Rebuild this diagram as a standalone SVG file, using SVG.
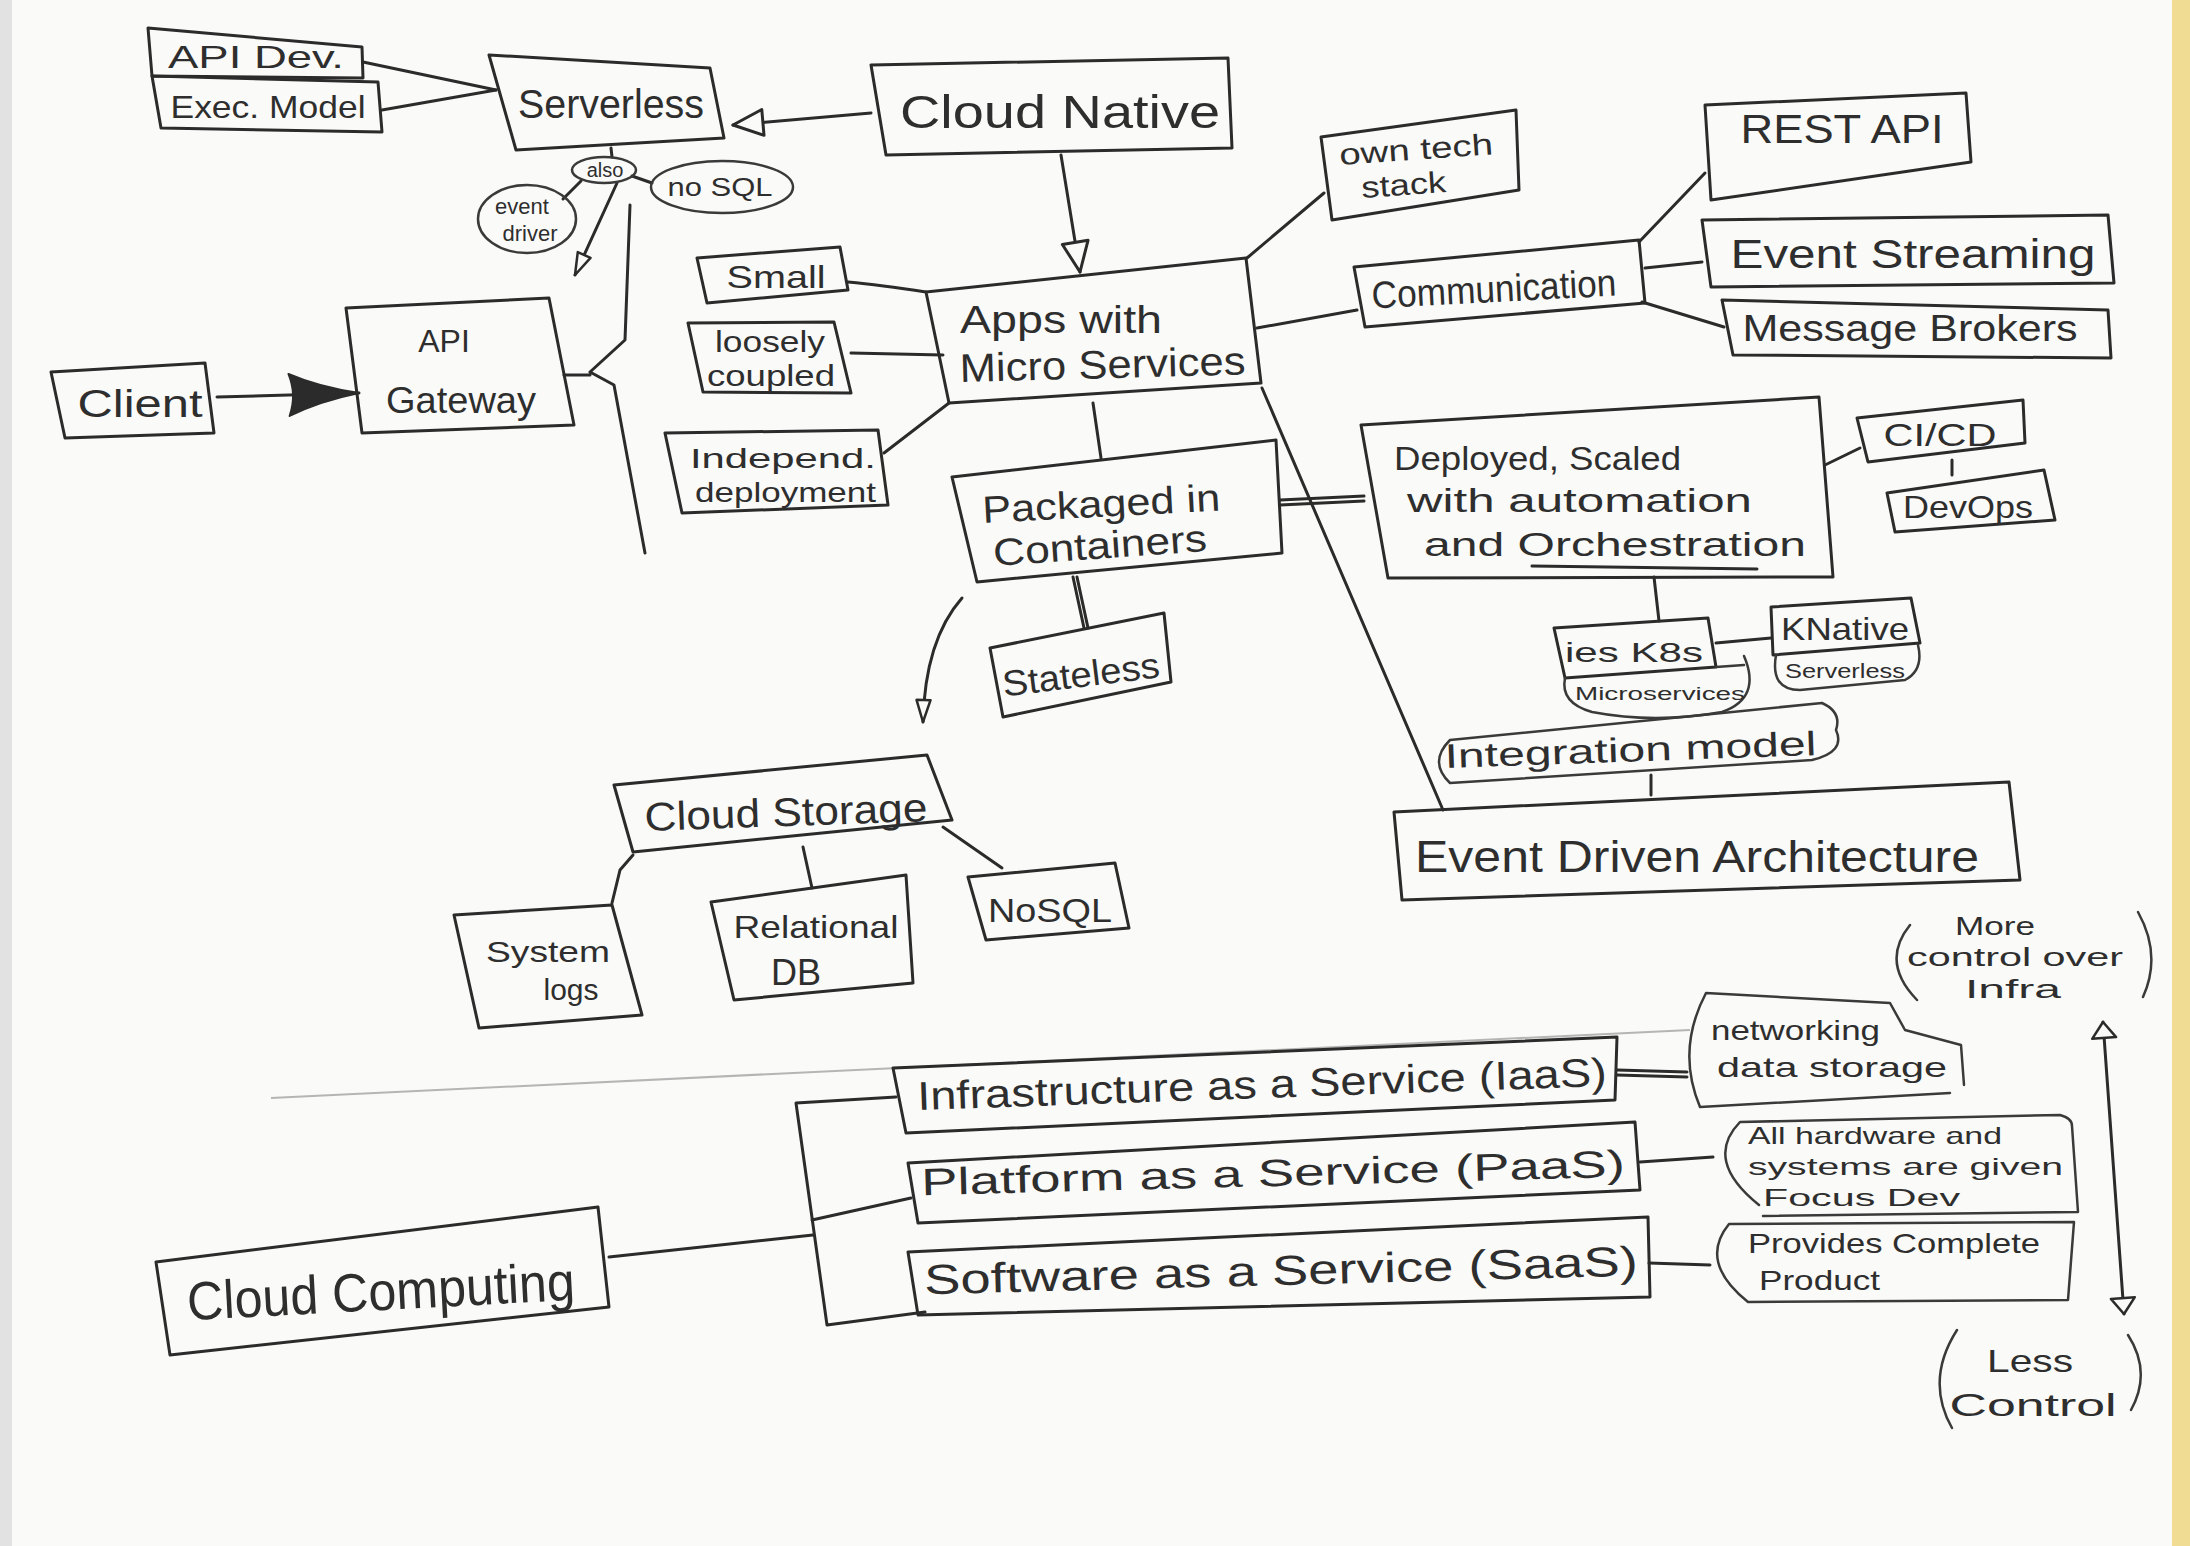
<svg xmlns="http://www.w3.org/2000/svg" width="2190" height="1546" viewBox="0 0 2190 1546">
<style>
  .bx{fill:none;stroke:#2b2b2b;stroke-width:3;stroke-linejoin:round}
  .bub{fill:none;stroke:#3a3a3a;stroke-width:2.5;stroke-linejoin:round;stroke-linecap:round}
  .cn{fill:none;stroke:#2b2b2b;stroke-width:3;stroke-linecap:round;stroke-linejoin:round}
  .sep{fill:none;stroke:#b5b5b5;stroke-width:2}
  text{font-family:"Liberation Sans",Arial,sans-serif;fill:#2e2e2e}
  .m{text-anchor:middle}
  .f18{font-size:18px}.f20{font-size:20px}.f22{font-size:22px}.f26{font-size:26px}.f28{font-size:28px}
  .f30{font-size:30px}.f32{font-size:32px}.f34{font-size:34px}.f36{font-size:36px}.f38{font-size:38px}
  .f40{font-size:40px}.f42{font-size:42px}.f44{font-size:44px}.f46{font-size:46px}.f54{font-size:54px}
</style>
<defs>
  <marker id="tri" viewBox="-2 -2 34 30" refX="30" refY="13" markerWidth="34" markerHeight="30" markerUnits="userSpaceOnUse" orient="auto">
    <path d="M0,0 L30,13 L0,26 Z" fill="#fafaf8" stroke="#2b2b2b" stroke-width="3" stroke-linejoin="round"/>
  </marker>
  <marker id="triS" viewBox="-2 -2 26 18" refX="22" refY="7" markerWidth="26" markerHeight="18" markerUnits="userSpaceOnUse" orient="auto">
    <path d="M0,0 L22,7 L0,14 Z" fill="#fafaf8" stroke="#2b2b2b" stroke-width="2.5" stroke-linejoin="round"/>
  </marker>
  <marker id="triV" viewBox="-2 -2 20 28" refX="16" refY="12" markerWidth="20" markerHeight="28" markerUnits="userSpaceOnUse" orient="auto-start-reverse">
    <path d="M0,0 L16,12 L0,24 Z" fill="#fafaf8" stroke="#2b2b2b" stroke-width="2.5" stroke-linejoin="round"/>
  </marker>
  <marker id="triF" viewBox="-2 -2 74 46" refX="70" refY="21" markerWidth="74" markerHeight="46" markerUnits="userSpaceOnUse" orient="auto">
    <path d="M0,0 Q30,14 70,21 Q30,28 0,42 Q8,21 0,0 Z" fill="#2b2b2b" stroke="#2b2b2b" stroke-width="2" stroke-linejoin="round"/>
  </marker>
</defs>

<rect x="0" y="0" width="2190" height="1546" fill="#fafaf8"/>
<rect x="0" y="0" width="12" height="1546" fill="#e2e2e2"/>
<rect x="2172" y="0" width="18" height="1546" fill="#f1dc93"/>

<g id="connectors">
  <path class="sep" d="M271,1098 L1690,1030"/>
  <path class="cn" d="M363,62 L496,90"/>
  <path class="cn" d="M382,110 L496,90"/>
  <path class="cn" d="M871,113 L733,125" marker-end="url(#tri)"/>
  <path class="cn" d="M1061,155 L1080,272" marker-end="url(#tri)"/>
  <path class="cn" d="M611,148 L612,157"/>
  <path class="cn" d="M581,181 L563,199"/>
  <path class="cn" d="M632,176 L652,183"/>
  <path class="cn" d="M617,183 L575,275" marker-end="url(#triS)"/>
  <path class="cn" d="M630,205 L625,340 L590,372 M564,375 L590,375 M590,372 L614,385 L645,553"/>
  <path class="cn" d="M217,397 L359,393" marker-end="url(#triF)"/>
  <path class="cn" d="M848,282 Q880,285 926,292"/>
  <path class="cn" d="M851,353 L943,355"/>
  <path class="cn" d="M884,453 L949,403"/>
  <path class="cn" d="M1093,403 L1101,458"/>
  <path class="cn" d="M1247,258 L1324,193"/>
  <path class="cn" d="M1257,328 L1357,310"/>
  <path class="cn" d="M1639,242 L1705,173"/>
  <path class="cn" d="M1645,268 L1702,262"/>
  <path class="cn" d="M1642,302 L1724,327"/>
  <path class="cn" d="M1262,388 L1443,810"/>
  <path class="cn" d="M1280,500 L1364,496 M1280,505 L1364,501"/>
  <path class="cn" d="M1825,465 L1860,448"/>
  <path class="cn" d="M1952,460 L1952,475"/>
  <path class="cn" d="M1654,577 L1659,621"/>
  <path class="cn" d="M1716,643 L1771,638"/>
  <path class="cn" d="M1651,775 L1651,795"/>
  <path class="cn" d="M1073,577 L1084,628 M1077,577 L1088,628"/>
  <path class="cn" d="M962,598 Q925,640 923,722" marker-end="url(#triS)"/>
  <path class="cn" d="M633,855 L620,870 L612,903"/>
  <path class="cn" d="M803,847 L812,888"/>
  <path class="cn" d="M943,827 L1002,868"/>
  <path class="cn" d="M609,1257 L813,1235"/>
  <path class="cn" d="M896,1097 L796,1103 L827,1325 L925,1312 M812,1220 L911,1198"/>
  <path class="cn" d="M1617,1070 L1687,1072 M1617,1075 L1687,1077"/>
  <path class="cn" d="M1640,1162 L1713,1157"/>
  <path class="cn" d="M1649,1263 L1710,1265"/>
  <path class="cn" d="M2103,1022 L2124,1314" marker-start="url(#triV)" marker-end="url(#triV)"/>
</g>

<g id="node-api-dev">
  <polygon class="bx" points="148,28 362,47 363,78 152,76"/>
  <text class="f32 m" x="256" y="68" textLength="176" lengthAdjust="spacingAndGlyphs">API Dev.</text>
</g>
<g id="node-exec-model">
  <polygon class="bx" points="152,76 378,82 382,132 161,128"/>
  <text class="f32 m" x="268" y="118" textLength="195" lengthAdjust="spacingAndGlyphs">Exec. Model</text>
</g>
<g id="node-serverless">
  <polygon class="bx" points="489,55 710,68 724,138 516,150"/>
  <text class="f40 m" x="611" y="118" textLength="186" lengthAdjust="spacingAndGlyphs">Serverless</text>
</g>
<g id="node-also">
  <ellipse class="bub" cx="604" cy="170" rx="32" ry="13"/>
  <text class="f20 m" x="605" y="177">also</text>
</g>
<g id="node-nosql-oval">
  <ellipse class="bub" cx="722" cy="187" rx="71" ry="26"/>
  <text class="f26 m" x="720" y="196" textLength="105" lengthAdjust="spacingAndGlyphs">no SQL</text>
</g>
<g id="node-event-driver">
  <ellipse class="bub" cx="527" cy="219" rx="49" ry="34"/>
  <text class="f22 m" x="522" y="214">event</text>
  <text class="f22 m" x="530" y="241">driver</text>
</g>
<g id="node-cloud-native">
  <polygon class="bx" points="871,65 1228,58 1232,148 886,155"/>
  <text class="f46 m" x="1060" y="128" textLength="320" lengthAdjust="spacingAndGlyphs">Cloud Native</text>
</g>
<g id="node-client">
  <polygon class="bx" points="51,372 205,363 214,433 65,438"/>
  <text class="f38 m" x="140" y="417" textLength="125" lengthAdjust="spacingAndGlyphs">Client</text>
</g>
<g id="node-api-gateway">
  <polygon class="bx" points="346,308 549,298 574,425 362,433"/>
  <text class="f32 m" x="444" y="352">API</text>
  <text class="f36 m" x="461" y="413" textLength="150" lengthAdjust="spacingAndGlyphs">Gateway</text>
</g>
<g id="node-small">
  <polygon class="bx" points="697,258 840,247 848,290 707,303"/>
  <text class="f32 m" x="776" y="288" textLength="99" lengthAdjust="spacingAndGlyphs">Small</text>
</g>
<g id="node-loosely-coupled">
  <polygon class="bx" points="688,323 834,322 851,393 703,392"/>
  <text class="f30 m" x="770" y="352" textLength="110" lengthAdjust="spacingAndGlyphs">loosely</text>
  <text class="f30 m" x="771" y="386" textLength="128" lengthAdjust="spacingAndGlyphs">coupled</text>
</g>
<g id="node-independ-deployment">
  <polygon class="bx" points="665,433 878,430 888,505 682,513"/>
  <text class="f28" x="690" y="468" textLength="186" lengthAdjust="spacingAndGlyphs">Independ.</text>
  <text class="f28" x="695" y="502" textLength="181" lengthAdjust="spacingAndGlyphs">deployment</text>
</g>
<g id="node-apps-micro">
  <polygon class="bx" points="926,292 1246,258 1261,383 949,403"/>
  <text class="f38" x="960" y="333" textLength="202" lengthAdjust="spacingAndGlyphs">Apps with</text>
  <text class="f40" x="960" y="382" textLength="286" lengthAdjust="spacingAndGlyphs" transform="rotate(-1.5 960 382)">Micro Services</text>
</g>
<g id="node-packaged">
  <polygon class="bx" points="952,477 1276,440 1282,553 977,582"/>
  <text class="f38" x="983" y="523" textLength="238" lengthAdjust="spacingAndGlyphs" transform="rotate(-3 983 523)">Packaged in</text>
  <text class="f38" x="994" y="566" textLength="214" lengthAdjust="spacingAndGlyphs" transform="rotate(-4 994 566)">Containers</text>
</g>
<g id="node-stateless">
  <polygon class="bx" points="990,648 1164,613 1171,682 1003,717"/>
  <text class="f36 m" x="1081" y="687" textLength="158" lengthAdjust="spacingAndGlyphs" transform="rotate(-7 1081 675)">Stateless</text>
</g>
<g id="node-own-tech">
  <polygon class="bx" points="1321,137 1516,110 1519,190 1332,220"/>
  <text class="f30" x="1340" y="165" textLength="154" lengthAdjust="spacingAndGlyphs" transform="rotate(-4 1340 165)">own tech</text>
  <text class="f30" x="1362" y="198" textLength="85" lengthAdjust="spacingAndGlyphs" transform="rotate(-4 1362 198)">stack</text>
</g>
<g id="node-communication">
  <polygon class="bx" points="1354,267 1639,240 1645,303 1365,327"/>
  <text class="f38 m" x="1494" y="302" textLength="245" lengthAdjust="spacingAndGlyphs" transform="rotate(-3 1494 290)">Communication</text>
</g>
<g id="node-rest-api">
  <polygon class="bx" points="1705,105 1966,93 1971,162 1711,200"/>
  <text class="f40 m" x="1842" y="143" textLength="203" lengthAdjust="spacingAndGlyphs">REST API</text>
</g>
<g id="node-event-streaming">
  <polygon class="bx" points="1702,220 2108,215 2114,283 1711,287"/>
  <text class="f40 m" x="1913" y="268" textLength="365" lengthAdjust="spacingAndGlyphs">Event Streaming</text>
</g>
<g id="node-message-brokers">
  <polygon class="bx" points="1722,300 2108,310 2111,358 1733,355"/>
  <text class="f36 m" x="1910" y="341" textLength="335" lengthAdjust="spacingAndGlyphs">Message Brokers</text>
</g>
<g id="node-deployed">
  <polygon class="bx" points="1361,425 1819,397 1833,577 1388,578"/>
  <text class="f34" x="1394" y="470" textLength="287" lengthAdjust="spacingAndGlyphs">Deployed, Scaled</text>
  <text class="f34" x="1407" y="512" textLength="345" lengthAdjust="spacingAndGlyphs">with automation</text>
  <text class="f34" x="1424" y="556" textLength="382" lengthAdjust="spacingAndGlyphs">and Orchestration</text>
  <path class="cn" d="M1532,566 L1757,569"/>
</g>
<g id="node-cicd">
  <polygon class="bx" points="1857,418 2023,400 2025,443 1868,462"/>
  <text class="f32 m" x="1940" y="446" textLength="113" lengthAdjust="spacingAndGlyphs">CI/CD</text>
</g>
<g id="node-devops">
  <polygon class="bx" points="1887,493 2044,470 2055,520 1895,532"/>
  <text class="f32 m" x="1968" y="518" textLength="130" lengthAdjust="spacingAndGlyphs">DevOps</text>
</g>
<g id="node-k8s">
  <polygon class="bx" points="1554,628 1708,618 1716,667 1565,678"/>
  <text class="f28 m" x="1634" y="662" textLength="138" lengthAdjust="spacingAndGlyphs">ies K8s</text>
  <path class="bub" d="M1565,678 Q1560,703 1592,712 Q1655,724 1722,712 Q1762,698 1744,656 M1716,667 L1744,665"/>
  <text class="f18 m" x="1660" y="700" textLength="170" lengthAdjust="spacingAndGlyphs">Microservices</text>
</g>
<g id="node-knative">
  <polygon class="bx" points="1771,607 1911,598 1920,643 1773,655"/>
  <text class="f32 m" x="1845" y="640" textLength="128" lengthAdjust="spacingAndGlyphs">KNative</text>
  <path class="bub" d="M1776,655 Q1770,690 1800,690 L1905,680 Q1924,670 1918,645"/>
  <text class="f20 m" x="1845" y="678" textLength="120" lengthAdjust="spacingAndGlyphs">Serverless</text>
</g>
<g id="node-integration-model">
  <path class="bub" d="M1450,740 L1822,703 Q1842,712 1836,730 Q1846,752 1812,760 L1450,783 Q1428,762 1450,740 Z"/>
  <text class="f34" x="1445" y="768" textLength="372" lengthAdjust="spacingAndGlyphs" transform="rotate(-2 1445 768)">Integration model</text>
</g>
<g id="node-event-driven-architecture">
  <polygon class="bx" points="1394,812 2009,782 2020,880 1402,900"/>
  <text class="f44 m" x="1697" y="872" textLength="564" lengthAdjust="spacingAndGlyphs">Event Driven Architecture</text>
</g>
<g id="node-cloud-storage">
  <polygon class="bx" points="614,785 927,755 952,820 633,852"/>
  <text class="f40 m" x="786" y="826" textLength="283" lengthAdjust="spacingAndGlyphs" transform="rotate(-2 786 815)">Cloud Storage</text>
</g>
<g id="node-system-logs">
  <polygon class="bx" points="454,915 612,905 642,1015 479,1028"/>
  <text class="f30 m" x="548" y="962" textLength="124" lengthAdjust="spacingAndGlyphs">System</text>
  <text class="f30 m" x="571" y="1000">logs</text>
</g>
<g id="node-relational-db">
  <polygon class="bx" points="711,902 906,875 913,983 734,1000"/>
  <text class="f32 m" x="816" y="938" textLength="165" lengthAdjust="spacingAndGlyphs">Relational</text>
  <text class="f36 m" x="796" y="985">DB</text>
</g>
<g id="node-nosql">
  <polygon class="bx" points="968,877 1115,863 1129,928 986,940"/>
  <text class="f34 m" x="1050" y="922" textLength="124" lengthAdjust="spacingAndGlyphs">NoSQL</text>
</g>
<g id="node-cloud-computing">
  <polygon class="bx" points="156,1262 598,1207 609,1307 170,1355"/>
  <text class="f54 m" x="381" y="1310" textLength="388" lengthAdjust="spacingAndGlyphs" transform="rotate(-3 381 1295)">Cloud Computing</text>
</g>
<g id="node-iaas">
  <polygon class="bx" points="893,1068 1617,1037 1615,1100 906,1133"/>
  <text class="f40 m" x="1262" y="1098" textLength="690" lengthAdjust="spacingAndGlyphs" transform="rotate(-2 1262 1085)">Infrastructure as a Service (IaaS)</text>
</g>
<g id="node-paas">
  <polygon class="bx" points="908,1163 1635,1122 1640,1190 918,1223"/>
  <text class="f38 m" x="1273" y="1186" textLength="704" lengthAdjust="spacingAndGlyphs" transform="rotate(-1.5 1273 1175)">Platform as a Service (PaaS)</text>
</g>
<g id="node-saas">
  <polygon class="bx" points="908,1252 1648,1217 1650,1297 918,1315"/>
  <text class="f42 m" x="1281" y="1285" textLength="714" lengthAdjust="spacingAndGlyphs" transform="rotate(-1.5 1281 1272)">Software as a Service (SaaS)</text>
</g>
<g id="node-networking">
  <path class="bub" d="M1700,1107 Q1676,1050 1706,993 L1890,1003 L1905,1030 L1961,1045 L1964,1085 M1950,1093 L1700,1107"/>
  <text class="f28" x="1711" y="1040" textLength="169" lengthAdjust="spacingAndGlyphs">networking</text>
  <text class="f28" x="1717" y="1077" textLength="230" lengthAdjust="spacingAndGlyphs">data storage</text>
</g>
<g id="node-all-hardware">
  <path class="bub" d="M1759,1205 Q1703,1160 1740,1122 L2060,1115 Q2072,1118 2072,1126 L2078,1212 L1763,1216"/>
  <text class="f24" x="1748" y="1144" textLength="254" lengthAdjust="spacingAndGlyphs" style="font-size:24px">All hardware and</text>
  <text class="f24" x="1748" y="1175" textLength="315" lengthAdjust="spacingAndGlyphs" style="font-size:24px">systems are given</text>
  <text class="f24" x="1763" y="1206" textLength="197" lengthAdjust="spacingAndGlyphs" style="font-size:24px">Focus Dev</text>
</g>
<g id="node-provides">
  <path class="bub" d="M1748,1302 Q1698,1262 1729,1224 L2074,1222 L2068,1300 Z"/>
  <text class="f28" x="1748" y="1253" textLength="292" lengthAdjust="spacingAndGlyphs">Provides Complete</text>
  <text class="f28" x="1759" y="1290" textLength="121" lengthAdjust="spacingAndGlyphs">Product</text>
</g>
<g id="node-more-control">
  <path class="bub" d="M1910,925 Q1880,962 1917,1000 M2138,912 Q2162,955 2143,997"/>
  <text class="f26 m" x="1995" y="935" textLength="80" lengthAdjust="spacingAndGlyphs">More</text>
  <text class="f26 m" x="2015" y="966" textLength="216" lengthAdjust="spacingAndGlyphs">control over</text>
  <text class="f26 m" x="2013" y="998" textLength="96" lengthAdjust="spacingAndGlyphs">Infra</text>
</g>
<g id="node-less-control">
  <path class="bub" d="M1957,1330 Q1925,1380 1952,1428 M2128,1335 Q2152,1372 2131,1410"/>
  <text class="f32 m" x="2030" y="1372" textLength="86" lengthAdjust="spacingAndGlyphs">Less</text>
  <text class="f32 m" x="2033" y="1416" textLength="167" lengthAdjust="spacingAndGlyphs">Control</text>
</g>
</svg>
